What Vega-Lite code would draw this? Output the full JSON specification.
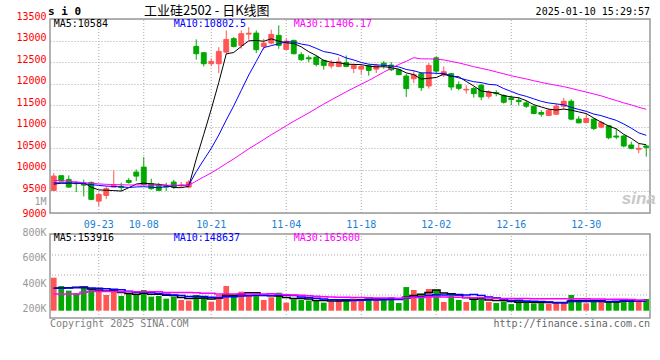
{
"$schema": "https://vega.github.io/schema/vega-lite/v6.json",
"width": 600, "height": 299,
"autosize": {"type": "none"},
"padding": {"left": 50, "top": 19, "right": 10, "bottom": 42},
"background": "white",
"config": {"view": {"stroke": null}, "axis": {"grid": false, "ticks": false, "domain": false, "labelOverlap": false, "labelBound": false}, "font": "DejaVu Sans Mono"},
"data": {"values": [
{"d":"09-11","o":9524,"h":9925,"l":9520,"c":9856,"m5":9670,"m10":9700,"m30":9760,"v":458000,"v5":375000,"v10":375000,"v30":331000},
{"d":"09-12","o":9865,"h":9870,"l":9735,"c":9740,"m5":9690,"m10":9700,"m30":9750,"v":393000,"v5":378000,"v10":376000,"v30":331000},
{"d":"09-13","o":9779,"h":9872,"l":9587,"c":9601,"m5":9690,"m10":9695,"m30":9735,"v":357000,"v5":380000,"v10":378000,"v30":331000},
{"d":"09-18","o":9690,"h":9740,"l":9485,"c":9680,"m5":9695,"m10":9690,"m30":9720,"v":336000,"v5":383000,"v10":380000,"v30":331000},
{"d":"09-19","o":9680,"h":9772,"l":9385,"c":9647,"m5":9705,"m10":9680,"m30":9705,"v":388000,"v5":386000,"v10":380000,"v30":345000},
{"d":"09-20","o":9710,"h":9730,"l":9300,"c":9316,"m5":9597,"m10":9660,"m30":9690,"v":370000,"v5":369000,"v10":378000,"v30":350000},
{"d":"09-23","o":9276,"h":9471,"l":9160,"c":9431,"m5":9535,"m10":9640,"m30":9675,"v":354000,"v5":361000,"v10":375000,"v30":350000},
{"d":"09-24","o":9408,"h":9617,"l":9322,"c":9564,"m5":9528,"m10":9625,"m30":9665,"v":323000,"v5":354000,"v10":372000,"v30":350000},
{"d":"09-25","o":9600,"h":9990,"l":9590,"c":9640,"m5":9520,"m10":9615,"m30":9660,"v":349000,"v5":357000,"v10":368000,"v30":350000},
{"d":"09-26","o":9620,"h":9703,"l":9508,"c":9590,"m5":9508,"m10":9607,"m30":9655,"v":315000,"v5":342000,"v10":364000,"v30":349000},
{"d":"09-27","o":9756,"h":9810,"l":9680,"c":9710,"m5":9587,"m10":9592,"m30":9650,"v":331000,"v5":334000,"v10":352000,"v30":349000},
{"d":"09-30","o":9949,"h":10011,"l":9740,"c":9856,"m5":9672,"m10":9604,"m30":9650,"v":323000,"v5":328000,"v10":345000,"v30":349000},
{"d":"10-08","o":10065,"h":10297,"l":9640,"c":9663,"m5":9692,"m10":9610,"m30":9650,"v":362000,"v5":336000,"v10":345000,"v30":349000},
{"d":"10-09","o":9680,"h":9795,"l":9540,"c":9564,"m5":9677,"m10":9598,"m30":9648,"v":310000,"v5":328000,"v10":343000,"v30":349000},
{"d":"10-10","o":9640,"h":9700,"l":9510,"c":9524,"m5":9663,"m10":9586,"m30":9646,"v":315000,"v5":328000,"v10":335000,"v30":348000},
{"d":"10-11","o":9620,"h":9700,"l":9510,"c":9600,"m5":9641,"m10":9614,"m30":9645,"v":294000,"v5":321000,"v10":328000,"v30":343000},
{"d":"10-14","o":9717,"h":9770,"l":9560,"c":9601,"m5":9590,"m10":9631,"m30":9644,"v":310000,"v5":318000,"v10":323000,"v30":343000},
{"d":"10-15","o":9630,"h":9720,"l":9600,"c":9650,"m5":9588,"m10":9640,"m30":9642,"v":284000,"v5":303000,"v10":319000,"v30":343000},
{"d":"10-16","o":9601,"h":9760,"l":9570,"c":9717,"m5":9618,"m10":9648,"m30":9641,"v":279000,"v5":296000,"v10":312000,"v30":342000},
{"d":"10-17","o":12864,"h":13027,"l":12556,"c":12695,"m5":10253,"m10":9958,"m30":9742,"v":323000,"v5":298000,"v10":313000,"v30":340000},
{"d":"10-18","o":12718,"h":12720,"l":12400,"c":12463,"m5":10825,"m10":10233,"m30":9836,"v":305000,"v5":300000,"v10":311000,"v30":336000},
{"d":"10-21","o":12463,"h":12586,"l":12407,"c":12517,"m5":11408,"m10":10499,"m30":9932,"v":271000,"v5":292000,"v10":305000,"v30":336000},
{"d":"10-22","o":12463,"h":12848,"l":12245,"c":12748,"m5":12028,"m10":10808,"m30":10035,"v":323000,"v5":300000,"v10":301000,"v30":330000},
{"d":"10-23","o":12732,"h":13236,"l":12695,"c":13027,"m5":12690,"m10":11154,"m30":10148,"v":393000,"v5":323000,"v10":310000,"v30":330000},
{"d":"10-24","o":13043,"h":13080,"l":12840,"c":12864,"m5":12724,"m10":11488,"m30":10255,"v":310000,"v5":320000,"v10":309000,"v30":330000},
{"d":"10-25","o":12888,"h":13236,"l":12811,"c":13159,"m5":12863,"m10":11844,"m30":10372,"v":349000,"v5":329000,"v10":315000,"v30":330000},
{"d":"10-28","o":13150,"h":13312,"l":13020,"c":13170,"m5":12994,"m10":12201,"m30":10489,"v":323000,"v5":340000,"v10":316000,"v30":330000},
{"d":"10-29","o":13173,"h":13236,"l":12710,"c":12788,"m5":13002,"m10":12515,"m30":10594,"v":323000,"v5":340000,"v10":320000,"v30":331000},
{"d":"10-30","o":12864,"h":13043,"l":12788,"c":12941,"m5":12984,"m10":12837,"m30":10704,"v":284000,"v5":318000,"v10":320000,"v30":331000},
{"d":"10-31","o":12941,"h":13252,"l":12911,"c":13143,"m5":13040,"m10":12882,"m30":10816,"v":305000,"v5":317000,"v10":319000,"v30":332000},
{"d":"11-01","o":13120,"h":13352,"l":12811,"c":12888,"m5":12986,"m10":12925,"m30":10917,"v":341000,"v5":315000,"v10":322000,"v30":328000},
{"d":"11-04","o":12795,"h":13050,"l":12795,"c":12987,"m5":12949,"m10":12972,"m30":11025,"v":263000,"v5":303000,"v10":321000,"v30":324000},
{"d":"11-05","o":13004,"h":13020,"l":12680,"c":12695,"m5":12931,"m10":12966,"m30":11128,"v":289000,"v5":296000,"v10":318000,"v30":322000},
{"d":"11-06","o":12672,"h":12730,"l":12530,"c":12556,"m5":12854,"m10":12919,"m30":11224,"v":284000,"v5":296000,"v10":307000,"v30":320000},
{"d":"11-07","o":12600,"h":12656,"l":12500,"c":12575,"m5":12740,"m10":12890,"m30":11321,"v":279000,"v5":291000,"v10":304000,"v30":316000},
{"d":"11-08","o":12616,"h":12656,"l":12400,"c":12447,"m5":12652,"m10":12819,"m30":11426,"v":279000,"v5":279000,"v10":297000,"v30":313000},
{"d":"11-11","o":12540,"h":12556,"l":12324,"c":12424,"m5":12539,"m10":12744,"m30":11526,"v":263000,"v5":279000,"v10":291000,"v30":310000},
{"d":"11-12","o":12410,"h":12550,"l":12350,"c":12480,"m5":12496,"m10":12714,"m30":11623,"v":271000,"v5":275000,"v10":286000,"v30":308000},
{"d":"11-13","o":12400,"h":12610,"l":12380,"c":12508,"m5":12487,"m10":12670,"m30":11718,"v":284000,"v5":275000,"v10":286000,"v30":306000},
{"d":"11-14","o":12492,"h":12654,"l":12385,"c":12400,"m5":12452,"m10":12596,"m30":11812,"v":292000,"v5":278000,"v10":285000,"v30":305000},
{"d":"11-15","o":12354,"h":12462,"l":12246,"c":12423,"m5":12447,"m10":12550,"m30":11902,"v":294000,"v5":281000,"v10":280000,"v30":304000},
{"d":"11-18","o":12338,"h":12446,"l":12215,"c":12400,"m5":12442,"m10":12491,"m30":11987,"v":284000,"v5":285000,"v10":282000,"v30":303000},
{"d":"11-19","o":12415,"h":12446,"l":12185,"c":12308,"m5":12408,"m10":12452,"m30":12075,"v":297000,"v5":290000,"v10":283000,"v30":301000},
{"d":"11-20","o":12338,"h":12462,"l":12246,"c":12415,"m5":12389,"m10":12438,"m30":12170,"v":297000,"v5":293000,"v10":284000,"v30":300000},
{"d":"11-21","o":12477,"h":12523,"l":12346,"c":12423,"m5":12394,"m10":12423,"m30":12267,"v":284000,"v5":291000,"v10":285000,"v30":299000},
{"d":"11-22","o":12431,"h":12500,"l":12292,"c":12323,"m5":12374,"m10":12410,"m30":12358,"v":305000,"v5":293000,"v10":287000,"v30":300000},
{"d":"11-25","o":12323,"h":12346,"l":12200,"c":12208,"m5":12335,"m10":12389,"m30":12445,"v":260000,"v5":289000,"v10":287000,"v30":298000},
{"d":"11-26","o":12177,"h":12231,"l":11692,"c":11885,"m5":12251,"m10":12329,"m30":12519,"v":385000,"v5":306000,"v10":298000,"v30":301000},
{"d":"11-27","o":12115,"h":12308,"l":12015,"c":12208,"m5":12209,"m10":12299,"m30":12602,"v":362000,"v5":319000,"v10":306000,"v30":304000},
{"d":"11-28","o":12231,"h":12269,"l":11831,"c":11908,"m5":12106,"m10":12250,"m30":12576,"v":331000,"v5":329000,"v10":310000,"v30":304000},
{"d":"11-29","o":11946,"h":12477,"l":11885,"c":12423,"m5":12126,"m10":12250,"m30":12575,"v":370000,"v5":342000,"v10":318000,"v30":307000},
{"d":"12-02","o":12600,"h":12631,"l":12246,"c":12292,"m5":12143,"m10":12239,"m30":12567,"v":362000,"v5":362000,"v10":325000,"v30":310000},
{"d":"12-03","o":12200,"h":12400,"l":12154,"c":12277,"m5":12222,"m10":12236,"m30":12552,"v":268000,"v5":339000,"v10":322000,"v30":308000},
{"d":"12-04","o":12231,"h":12246,"l":11846,"c":11923,"m5":12165,"m10":12187,"m30":12515,"v":331000,"v5":332000,"v10":326000,"v30":306000},
{"d":"12-05","o":11977,"h":12054,"l":11846,"c":11892,"m5":12161,"m10":12134,"m30":12482,"v":284000,"v5":323000,"v10":326000,"v30":305000},
{"d":"12-06","o":11854,"h":11962,"l":11769,"c":11869,"m5":12051,"m10":12089,"m30":12439,"v":268000,"v5":303000,"v10":322000,"v30":302000},
{"d":"12-09","o":11885,"h":11923,"l":11677,"c":11769,"m5":11946,"m10":12045,"m30":12393,"v":297000,"v5":290000,"v10":326000,"v30":301000},
{"d":"12-10","o":11962,"h":12000,"l":11615,"c":11692,"m5":11829,"m10":12025,"m30":12356,"v":302000,"v5":296000,"v10":318000,"v30":301000},
{"d":"12-11","o":11708,"h":11846,"l":11654,"c":11808,"m5":11806,"m10":11985,"m30":12318,"v":268000,"v5":284000,"v10":308000,"v30":300000},
{"d":"12-12","o":11792,"h":11846,"l":11708,"c":11769,"m5":11781,"m10":11971,"m30":12273,"v":260000,"v5":279000,"v10":301000,"v30":298000},
{"d":"12-13","o":11723,"h":11754,"l":11538,"c":11569,"m5":11721,"m10":11886,"m30":12229,"v":271000,"v5":280000,"v10":291000,"v30":296000},
{"d":"12-16","o":11669,"h":11708,"l":11500,"c":11631,"m5":11694,"m10":11820,"m30":12183,"v":252000,"v5":271000,"v10":280000,"v30":296000},
{"d":"12-17","o":11615,"h":11692,"l":11500,"c":11585,"m5":11672,"m10":11751,"m30":12146,"v":284000,"v5":267000,"v10":282000,"v30":296000},
{"d":"12-18","o":11554,"h":11615,"l":11438,"c":11477,"m5":11606,"m10":11706,"m30":12110,"v":271000,"v5":268000,"v10":276000,"v30":295000},
{"d":"12-19","o":11477,"h":11490,"l":11290,"c":11308,"m5":11514,"m10":11648,"m30":12068,"v":258000,"v5":267000,"v10":273000,"v30":294000},
{"d":"12-20","o":11331,"h":11385,"l":11231,"c":11292,"m5":11459,"m10":11590,"m30":12030,"v":258000,"v5":265000,"v10":272000,"v30":294000},
{"d":"12-23","o":11262,"h":11423,"l":11246,"c":11385,"m5":11409,"m10":11552,"m30":11995,"v":258000,"v5":266000,"v10":268000,"v30":294000},
{"d":"12-24","o":11292,"h":11538,"l":11269,"c":11477,"m5":11388,"m10":11530,"m30":11962,"v":268000,"v5":263000,"v10":265000,"v30":294000},
{"d":"12-25","o":11477,"h":11669,"l":11400,"c":11592,"m5":11411,"m10":11509,"m30":11931,"v":268000,"v5":262000,"v10":265000,"v30":293000},
{"d":"12-26","o":11592,"h":11638,"l":11154,"c":11177,"m5":11385,"m10":11449,"m30":11890,"v":323000,"v5":275000,"v10":271000,"v30":294000},
{"d":"12-27","o":11177,"h":11246,"l":11077,"c":11092,"m5":11345,"m10":11402,"m30":11846,"v":276000,"v5":279000,"v10":272000,"v30":293000},
{"d":"12-30","o":11100,"h":11308,"l":11077,"c":11192,"m5":11306,"m10":11358,"m30":11806,"v":258000,"v5":279000,"v10":272000,"v30":293000},
{"d":"12-31","o":11177,"h":11192,"l":10923,"c":10962,"m5":11203,"m10":11295,"m30":11761,"v":271000,"v5":279000,"v10":271000,"v30":292000},
{"d":"01-02","o":10992,"h":11138,"l":10962,"c":11100,"m5":11105,"m10":11258,"m30":11717,"v":271000,"v5":280000,"v10":271000,"v30":291000},
{"d":"01-03","o":11023,"h":11038,"l":10708,"c":10746,"m5":11018,"m10":11202,"m30":11661,"v":271000,"v5":269000,"v10":272000,"v30":290000},
{"d":"01-06","o":10785,"h":10962,"l":10715,"c":10762,"m5":10952,"m10":11149,"m30":11609,"v":271000,"v5":268000,"v10":274000,"v30":289000},
{"d":"01-07","o":10785,"h":10808,"l":10523,"c":10554,"m5":10825,"m10":11065,"m30":11554,"v":284000,"v5":274000,"v10":276000,"v30":290000},
{"d":"01-08","o":10577,"h":10654,"l":10477,"c":10500,"m5":10732,"m10":10968,"m30":11508,"v":284000,"v5":276000,"v10":278000,"v30":287000},
{"d":"01-09","o":10480,"h":10615,"l":10385,"c":10500,"m5":10612,"m10":10859,"m30":11451,"v":271000,"v5":276000,"v10":278000,"v30":284000},
{"d":"01-10","o":10554,"h":10577,"l":10308,"c":10523,"m5":10584,"m10":10802,"m30":11406,"v":292000,"v5":280000,"v10":275000,"v30":282000}
]},
"layer": [
{"layer": [
  {"transform": [{"filter": {"field": "d", "oneOf": ["09-23","10-08","10-21","11-04","11-18","12-02","12-16","12-30"]}}],
   "mark": {"type": "rule", "color": "#a8a8a8", "strokeDash": [1, 2], "strokeWidth": 1},
   "encoding": {
     "x": {"field": "d", "type": "ordinal", "title": null,
           "scale": {"domain": ["09-11","09-12","09-13","09-18","09-19","09-20","09-23","09-24","09-25","09-26","09-27","09-30","10-08","10-09","10-10","10-11","10-14","10-15","10-16","10-17","10-18","10-21","10-22","10-23","10-24","10-25","10-28","10-29","10-30","10-31","11-01","11-04","11-05","11-06","11-07","11-08","11-11","11-12","11-13","11-14","11-15","11-18","11-19","11-20","11-21","11-22","11-25","11-26","11-27","11-28","11-29","12-02","12-03","12-04","12-05","12-06","12-09","12-10","12-11","12-12","12-13","12-16","12-17","12-18","12-19","12-20","12-23","12-24","12-25","12-26","12-27","12-30","12-31","01-02","01-03","01-06","01-07","01-08","01-09","01-10"], "paddingInner": 0, "paddingOuter": 0},
           "axis": {"values": ["09-23","10-08","10-21","11-04","11-18","12-02","12-16","12-30"], "orient": "bottom", "offset": -105, "labelAngle": 0, "labelColor": "#1a7fd4", "labelFont": "DejaVu Sans Mono", "labelFontSize": 10, "labelPadding": 6, "grid": false, "ticks": false, "domain": false, "title": null}},
     "y": {"datum": 9000, "scale": {"domain": [9000, 13500], "range": [194, 0], "nice": false, "zero": false}},
     "y2": {"datum": 13500}}},
  {"mark": {"type": "rule", "strokeWidth": 1},
   "encoding": {
     "x": {"field": "d", "type": "ordinal", "title": null},
     "y": {"field": "l", "type": "quantitative", "title": null, "scale": {"domain": [9000, 13500], "range": [194, 0], "nice": false, "zero": false},
           "axis": {"values": [9000, 9500, 10000, 10500, 11000, 11500, 12000, 12500, 13000, 13500], "tickCount": 20, "format": "d",
                    "grid": true, "gridColor": "#a8a8a8", "gridDash": [1, 2],
                    "labelColor": "#ff0000",
                    "labelFont": "DejaVu Sans Mono", "labelFontSize": 10, "labelPadding": 4,
                    "labelOffset": {"condition": {"test": "datum.value <= 9000", "value": 0}, "value": -3},
                    "labelOverlap": false, "labelBound": false, "title": null}},
     "y2": {"field": "h"},
     "color": {"condition": {"test": "datum.c >= datum.o", "value": "#ff5555"}, "value": "#00a800"}}},
  {"mark": {"type": "bar", "width": {"band": 0.65}, "strokeWidth": 1},
   "encoding": {
     "x": {"field": "d", "type": "ordinal", "title": null},
     "y": {"field": "o", "type": "quantitative", "title": null, "scale": {"domain": [9000, 13500], "range": [194, 0], "nice": false, "zero": false}},
     "y2": {"field": "c"},
     "color": {"condition": {"test": "datum.c >= datum.o", "value": "#ff5555"}, "value": "#00a800"},
     "stroke": {"condition": {"test": "datum.c >= datum.o", "value": "#ff5555"}, "value": "#00a800"}}},
  {"mark": {"type": "line", "color": "#000000", "strokeWidth": 1},
   "encoding": {"x": {"field": "d", "type": "ordinal", "title": null},
     "y": {"field": "m5", "type": "quantitative", "title": null, "scale": {"domain": [9000, 13500], "range": [194, 0], "nice": false, "zero": false}}}},
  {"mark": {"type": "line", "color": "#0000ff", "strokeWidth": 1},
   "encoding": {"x": {"field": "d", "type": "ordinal", "title": null},
     "y": {"field": "m10", "type": "quantitative", "title": null, "scale": {"domain": [9000, 13500], "range": [194, 0], "nice": false, "zero": false}}}},
  {"mark": {"type": "line", "color": "#ff00ff", "strokeWidth": 1},
   "encoding": {"x": {"field": "d", "type": "ordinal", "title": null},
     "y": {"field": "m30", "type": "quantitative", "title": null, "scale": {"domain": [9000, 13500], "range": [194, 0], "nice": false, "zero": false}}}},
  {"data": {"values": [{}]},
   "mark": {"type": "rect", "fillOpacity": 0, "stroke": "#999999", "strokeWidth": 1.5},
   "encoding": {"y": {"datum": 9000, "scale": {"domain": [9000, 13500], "range": [194, 0], "nice": false, "zero": false}}, "y2": {"datum": 13500}}},
  {"data": {"values": [{}]},
   "mark": {"type": "text", "align": "left", "baseline": "middle", "font": "DejaVu Sans Mono", "fontSize": 11, "fontWeight": "bold", "color": "#000000", "dx": -2},
   "encoding": {"x": {"datum": "09-11", "bandPosition": 0}, "y": {"datum": 13662, "scale": {"domain": [9000, 13500], "range": [194, 0], "nice": false, "zero": false}}, "text": {"value": "s i 0"}}},
  {"data": {"values": [{}]},
   "mark": {"type": "text", "align": "center", "baseline": "middle", "font": "Noto Sans CJK SC", "fontSize": 13, "color": "#000000", "dx": 3},
   "encoding": {"x": {"datum": "10-18"}, "y": {"datum": 13690, "scale": {"domain": [9000, 13500], "range": [194, 0], "nice": false, "zero": false}}, "text": {"value": "工业硅2502 - 日K线图"}}},
  {"data": {"values": [{}]},
   "mark": {"type": "text", "align": "right", "baseline": "middle", "font": "DejaVu Sans Mono", "fontSize": 10, "color": "#000000"},
   "encoding": {"x": {"datum": "01-10", "bandPosition": 1}, "y": {"datum": 13669, "scale": {"domain": [9000, 13500], "range": [194, 0], "nice": false, "zero": false}}, "text": {"value": "2025-01-10 15:29:57"}}},
  {"data": {"values": [{}]},
   "mark": {"type": "text", "align": "left", "baseline": "middle", "font": "DejaVu Sans Mono", "fontSize": 10, "color": "#000000"},
   "encoding": {"x": {"datum": "09-11"}, "y": {"datum": 13379, "scale": {"domain": [9000, 13500], "range": [194, 0], "nice": false, "zero": false}}, "text": {"value": "MA5:10584"}}},
  {"data": {"values": [{}]},
   "mark": {"type": "text", "align": "left", "baseline": "middle", "font": "DejaVu Sans Mono", "fontSize": 10, "color": "#0000ff"},
   "encoding": {"x": {"datum": "10-14"}, "y": {"datum": 13379, "scale": {"domain": [9000, 13500], "range": [194, 0], "nice": false, "zero": false}}, "text": {"value": "MA10:10802.5"}}},
  {"data": {"values": [{}]},
   "mark": {"type": "text", "align": "left", "baseline": "middle", "font": "DejaVu Sans Mono", "fontSize": 10, "color": "#ff00ff"},
   "encoding": {"x": {"datum": "11-05"}, "y": {"datum": 13379, "scale": {"domain": [9000, 13500], "range": [194, 0], "nice": false, "zero": false}}, "text": {"value": "MA30:11406.17"}}},
  {"data": {"values": [{}]},
   "mark": {"type": "text", "align": "center", "baseline": "middle", "font": "Liberation Sans", "fontSize": 17, "fontWeight": "bold", "fontStyle": "italic", "color": "#c8c8c8"},
   "encoding": {"x": {"datum": "01-09"}, "y": {"datum": 9325, "scale": {"domain": [9000, 13500], "range": [194, 0], "nice": false, "zero": false}}, "text": {"value": "sina"}}}
]},
{"layer": [
  {"data": {"values": [{"g": 322800}, {"g": 479300}, {"g": 635700}]},
   "mark": {"type": "rule", "color": "#a8a8a8", "strokeDash": [1, 2], "strokeWidth": 1},
   "encoding": {"y": {"field": "g", "type": "quantitative", "title": null, "scale": {"domain": [142900, 1100000], "range": [299, 176.65], "nice": false, "zero": false},
      "axis": {"orient": "left", "values": [200000, 400000, 600000, 800000, 1000000], "tickCount": 20, "labelExpr": "datum.value >= 1000000 ? '1M' : (datum.value / 1000) + 'K'", "grid": false, "ticks": false, "domain": false, "labelColor": "#999999", "labelFont": "DejaVu Sans Mono", "labelFontSize": 10, "labelPadding": 4,
               "labelOffset": {"condition": {"test": "datum.value >= 1000000", "value": -7}, "value": -2},
               "labelOverlap": false, "labelBound": false, "title": null}}}},
  {"transform": [{"filter": {"field": "d", "oneOf": ["09-23","10-08","10-21","11-04","11-18","12-02","12-16","12-30"]}}],
   "mark": {"type": "rule", "color": "#a8a8a8", "strokeDash": [1, 2], "strokeWidth": 1},
   "encoding": {"x": {"field": "d", "type": "ordinal", "title": null},
     "y": {"datum": 142900, "scale": {"domain": [142900, 1100000], "range": [299, 176.65], "nice": false, "zero": false}}, "y2": {"datum": 800000}}},
  {"mark": {"type": "bar", "width": {"band": 0.76}},
   "encoding": {"x": {"field": "d", "type": "ordinal", "title": null},
     "y": {"field": "v", "type": "quantitative", "title": null, "scale": {"domain": [142900, 1100000], "range": [299, 176.65], "nice": false, "zero": false}},
     "y2": {"datum": 200000},
     "color": {"condition": {"test": "datum.c >= datum.o", "value": "#ff5555"}, "value": "#00a800"}}},
  {"mark": {"type": "line", "color": "#000000", "strokeWidth": 1.5, "interpolate": "step"},
   "encoding": {"x": {"field": "d", "type": "ordinal", "title": null},
     "y": {"field": "v5", "type": "quantitative", "title": null, "scale": {"domain": [142900, 1100000], "range": [299, 176.65], "nice": false, "zero": false}}}},
  {"mark": {"type": "line", "color": "#0000ff", "strokeWidth": 1.5, "interpolate": "step"},
   "encoding": {"x": {"field": "d", "type": "ordinal", "title": null},
     "y": {"field": "v10", "type": "quantitative", "title": null, "scale": {"domain": [142900, 1100000], "range": [299, 176.65], "nice": false, "zero": false}}}},
  {"mark": {"type": "line", "color": "#ff00ff", "strokeWidth": 1.5, "interpolate": "step"},
   "encoding": {"x": {"field": "d", "type": "ordinal", "title": null},
     "y": {"field": "v30", "type": "quantitative", "title": null, "scale": {"domain": [142900, 1100000], "range": [299, 176.65], "nice": false, "zero": false}}}},
  {"data": {"values": [{}]},
   "mark": {"type": "rect", "fillOpacity": 0, "stroke": "#999999", "strokeWidth": 1.5},
   "encoding": {"y": {"datum": 142900, "scale": {"domain": [142900, 1100000], "range": [299, 176.65], "nice": false, "zero": false}}, "y2": {"datum": 800000}}},
  {"data": {"values": [{}]},
   "mark": {"type": "text", "align": "left", "baseline": "middle", "font": "DejaVu Sans Mono", "fontSize": 10, "color": "#000000"},
   "encoding": {"x": {"datum": "09-11"}, "y": {"datum": 768700, "scale": {"domain": [142900, 1100000], "range": [299, 176.65], "nice": false, "zero": false}}, "text": {"value": "MA5:153916"}}},
  {"data": {"values": [{}]},
   "mark": {"type": "text", "align": "left", "baseline": "middle", "font": "DejaVu Sans Mono", "fontSize": 10, "color": "#0000ff"},
   "encoding": {"x": {"datum": "10-14"}, "y": {"datum": 768700, "scale": {"domain": [142900, 1100000], "range": [299, 176.65], "nice": false, "zero": false}}, "text": {"value": "MA10:148637"}}},
  {"data": {"values": [{}]},
   "mark": {"type": "text", "align": "left", "baseline": "middle", "font": "DejaVu Sans Mono", "fontSize": 10, "color": "#ff00ff"},
   "encoding": {"x": {"datum": "11-05"}, "y": {"datum": 768700, "scale": {"domain": [142900, 1100000], "range": [299, 176.65], "nice": false, "zero": false}}, "text": {"value": "MA30:165600"}}},
  {"data": {"values": [{}]},
   "mark": {"type": "text", "align": "left", "baseline": "middle", "font": "DejaVu Sans Mono", "fontSize": 10, "color": "#808080"},
   "encoding": {"x": {"datum": "09-11", "bandPosition": 0}, "y": {"datum": 98300, "scale": {"domain": [142900, 1100000], "range": [299, 176.65], "nice": false, "zero": false}}, "text": {"value": "Copyright 2025 SINA.COM"}}},
  {"data": {"values": [{}]},
   "mark": {"type": "text", "align": "right", "baseline": "middle", "font": "DejaVu Sans Mono", "fontSize": 10, "color": "#666666"},
   "encoding": {"x": {"datum": "01-10", "bandPosition": 1}, "y": {"datum": 98300, "scale": {"domain": [142900, 1100000], "range": [299, 176.65], "nice": false, "zero": false}}, "text": {"value": "http://finance.sina.com.cn"}}}
]}
],
"resolve": {"scale": {"y": "independent"}}
}
